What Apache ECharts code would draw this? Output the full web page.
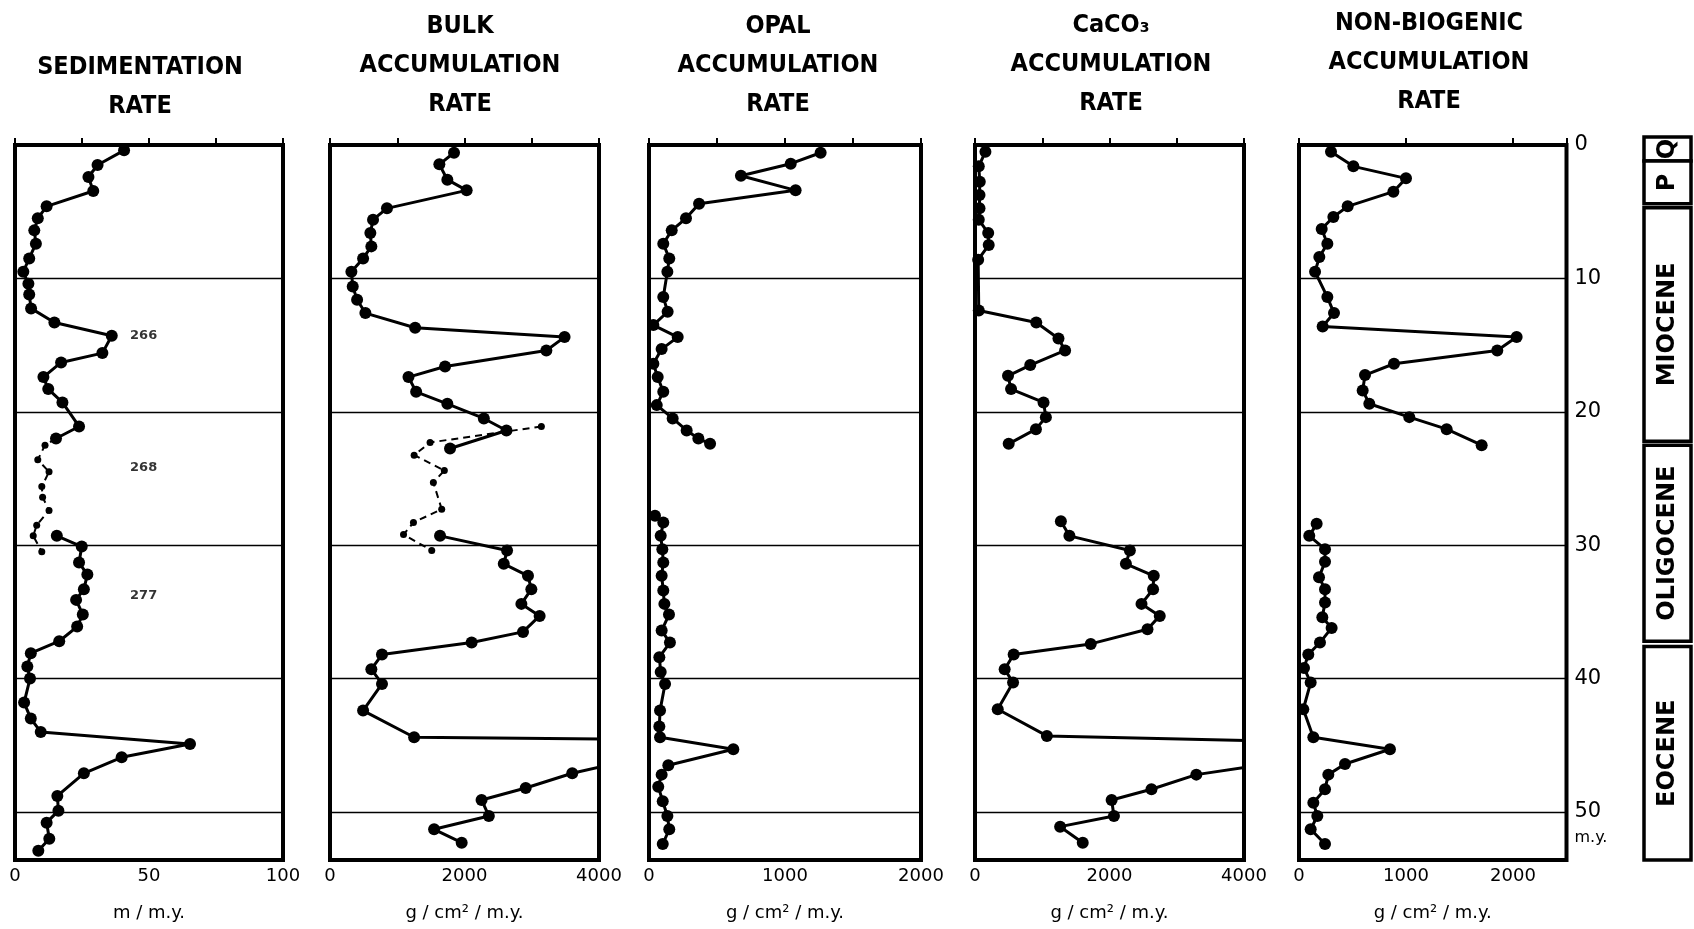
<!DOCTYPE html>
<html><head><meta charset="utf-8">
<script src="https://cdn.jsdelivr.net/npm/echarts@6/dist/echarts.min.js"></script>
<style>html,body{margin:0;padding:0;background:#fff}#c{width:1694px;height:929px}</style>
</head><body><div id="c"></div>
<script>
// ---------- DATA : [value, age (m.y.)] ----------
// Sedimentation rate (m/m.y.)
const sed266 = [[40.7,0.4],[30.8,1.5],[27.4,2.4],[29.2,3.45],[11.8,4.6],[8.5,5.5],[7.2,6.4],[7.8,7.4],[5.3,8.5],[3.1,9.5],[5.0,10.4],[5.3,11.2],[6.0,12.25],[14.7,13.3],[36.1,14.3],[32.6,15.6],[17.2,16.3],[10.6,17.4],[12.4,18.3],[17.7,19.3],[23.9,21.1],[15.3,22.0]];
const sed268 = [[15.3,22.0],[11.2,22.5],[8.5,23.6],[12.7,24.5],[10.0,25.6],[10.3,26.4],[12.7,27.4],[8.1,28.5],[6.8,29.3],[10.0,30.5]];
const sed277 = [[15.6,29.3],[24.9,30.1],[23.9,31.3],[27.0,32.2],[25.7,33.3],[22.8,34.1],[25.3,35.2],[23.2,36.1],[16.5,37.2],[5.9,38.1],[4.6,39.1],[5.6,40.0],[3.4,41.8],[5.9,43.0],[9.6,44.0],[65.3,44.9],[39.8,45.9],[25.7,47.1],[15.8,48.8],[16.2,49.9],[11.8,50.8],[12.8,52.0],[8.7,52.9]];
// Bulk accumulation rate (g/cm2/m.y.)
const bulk266 = [[1844,0.58],[1626,1.45],[1745,2.6],[2032,3.4],[847,4.75],[640,5.6],[600,6.6],[615,7.6],[492,8.5],[318,9.5],[338,10.6],[403,11.6],[526,12.6],[1266,13.7],[3488,14.4],[3217,15.4],[1711,16.6],[1167,17.4],[1281,18.5],[1745,19.4],[2288,20.5],[2624,21.4],[1785,22.75]];
const bulk268 = [[3143,21.1],[1488,22.3],[1251,23.25],[1700,24.4],[1537,25.3],[1661,27.3],[1241,28.3],[1093,29.2],[1513,30.4]];
const bulk277 = [[1636,29.3],[2633,30.4],[2584,31.4],[2944,32.3],[2994,33.3],[2846,34.4],[3117,35.3],[2870,36.5],[2106,37.3],[773,38.2],[615,39.3],[773,40.4],[492,42.4],[1251,44.4],[5800,44.6],[3602,47.1],[2910,48.2],[2254,49.1],[2362,50.3],[1548,51.3],[1958,52.3]];
// Opal accumulation rate
const opal266 = [[1262,0.58],[1042,1.4],[676,2.3],[1078,3.4],[368,4.4],[272,5.5],[167,6.4],[105,7.4],[149,8.5],[135,9.5],[105,11.4],[137,12.5],[32,13.5],[211,14.4],[93,15.3],[32,16.4],[64,17.4],[105,18.5],[57,19.5],[174,20.5],[277,21.4],[363,22.0],[449,22.4]];
const opal277 = [[44,27.8],[105,28.3],[86,29.3],[98,30.3],[105,31.3],[93,32.3],[105,33.4],[113,34.4],[147,35.2],[93,36.4],[154,37.3],[76,38.4],[86,39.5],[118,40.4],[81,42.4],[76,43.6],[81,44.4],[620,45.3],[142,46.5],[93,47.2],[68,48.1],[101,49.2],[135,50.3],[149,51.3],[101,52.4]];
// CaCO3 accumulation rate
const carb266 = [[155,0.5],[56,1.6],[71,2.75],[67,3.75],[67,4.75],[56,5.6],[196,6.6],[204,7.5],[47,8.6],[56,12.4],[911,13.3],[1241,14.5],[1340,15.4],[822,16.5],[491,17.3],[536,18.3],[1019,19.3],[1054,20.4],[906,21.3],[501,22.4]];
const carb277 = [[1277,28.2],[1404,29.3],[2303,30.4],[2244,31.4],[2658,32.3],[2648,33.3],[2476,34.4],[2747,35.3],[2565,36.3],[1721,37.4],[575,38.2],[441,39.3],[566,40.3],[338,42.3],[1069,44.3],[6400,44.9],[3291,47.2],[2624,48.3],[2032,49.1],[2066,50.3],[1266,51.1],[1602,52.3]];
// Non-biogenic accumulation rate
const nb266 = [[299,0.5],[508,1.6],[1000,2.5],[882,3.5],[455,4.6],[321,5.4],[212,6.3],[265,7.4],[190,8.4],[150,9.5],[265,11.4],[327,12.6],[221,13.6],[2034,14.4],[1853,15.4],[888,16.4],[617,17.25],[595,18.4],[657,19.4],[1031,20.4],[1380,21.3],[1707,22.5]];
const nb277 = [[165,28.4],[96,29.3],[243,30.3],[243,31.25],[187,32.4],[243,33.3],[243,34.3],[218,35.4],[305,36.2],[196,37.3],[87,38.2],[47,39.2],[109,40.3],[40,42.3],[134,44.4],[850,45.3],[430,46.4],[274,47.2],[243,48.3],[134,49.3],[171,50.3],[109,51.3],[243,52.4]];
// site labels (panel 1)
const siteNames = ['266','268','277'];
const siteAt = [[48,14.3],[48,24.2],[48,33.8]];
// panel titles / units / x scales
const titles = ['SEDIMENTATION\nRATE','BULK\nACCUMULATION\nRATE','OPAL\nACCUMULATION\nRATE','CaCO\u2083\nACCUMULATION\nRATE','NON-BIOGENIC\nACCUMULATION\nRATE'];
const units = ['m / m.y.','g / cm\u00b2 / m.y.','g / cm\u00b2 / m.y.','g / cm\u00b2 / m.y.','g / cm\u00b2 / m.y.'];
const xMax = [100,4000,2000,4000,2500];
const xTickStep = [25,1000,500,1000,1000];
const xLabelStep = [50,2000,1000,2000,1000];
const ageMax = 53.6;
const ageStep = 10;
const ageUnit = 'm.y.';
// epochs
const epochNames = ['Q','P','MIOCENE','OLIGOCENE','EOCENE'];
const epochTop = [-0.6,1.2,4.7,22.5,37.6];
const epochBase = [1.2,4.4,22.2,37.2,53.6];

// ---------- LAYOUT ----------
const gridLeft = [15,330,649,975,1299];
const gridWidth = [268,269,272,269,267.5];
const titleX = [140,460,778,1111,1429];
const titleTop = [48,7,7,6,4];
const FONT = "'DejaVu Sans Condensed','Liberation Sans Narrow','DejaVu Sans',sans-serif";

const grids = [], xAxes = [], yAxes = [], series = [], titlesOpt = [];
for (let i = 0; i < 5; i++) {
  grids.push({left: gridLeft[i], width: gridWidth[i], top: 145, height: 715, show: true,
    borderColor: '#000', borderWidth: 4, backgroundColor: 'transparent'});
  const lab = xLabelStep[i], mx = xMax[i];
  xAxes.push({type: 'value', gridIndex: i, min: 0, max: mx, interval: xTickStep[i],
    axisLine: {show: false},
    axisTick: {show: true, inside: true, length: 7, lineStyle: {color: '#000', width: 2}},
    splitLine: {show: false},
    axisLabel: {color: '#000', fontSize: 18, fontFamily: 'DejaVu Sans', margin: 7,
      formatter: v => (v % lab === 0 && v <= mx) ? String(v) : ''},
    name: units[i], nameLocation: 'middle', nameGap: 44,
    nameTextStyle: {color: '#000', fontSize: 18, fontFamily: 'DejaVu Sans'}});
  yAxes.push({type: 'value', gridIndex: i, inverse: true, min: 0, max: ageMax, interval: ageStep,
    position: i === 4 ? 'right' : 'left',
    axisLine: {show: false}, axisTick: {show: false},
    splitLine: {show: true, lineStyle: {color: '#000', width: 1.3}},
    axisLabel: {show: i === 4, color: '#000', fontSize: 21, fontFamily: 'DejaVu Sans', margin: 8,
      formatter: v => v === 50 ? '{sp|}\n{a|50}\n{u|' + ageUnit + '}' : (v % ageStep === 0 ? '{a|' + v + '}' : ''),
      rich: {sp: {lineHeight: 26, fontSize: 16}, a: {lineHeight: 26, fontSize: 21, fontFamily: 'DejaVu Sans', color: '#000'},
             u: {lineHeight: 26, fontSize: 16, fontFamily: 'DejaVu Sans', color: '#000'}}}});
  titlesOpt.push({text: titles[i], left: titleX[i], top: titleTop[i], textAlign: 'center', padding: 0,
    textStyle: {color: '#000', fontSize: 25, fontWeight: 'bold', fontFamily: FONT, lineHeight: 39}});
}
function solid(idx, data) {
  return {type: 'line', xAxisIndex: idx, yAxisIndex: idx, data: data, symbol: 'circle', symbolSize: 12,
    showSymbol: true, clip: true, animation: false, silent: true,
    itemStyle: {color: '#000'}, lineStyle: {color: '#000', width: 3}};
}
function dashed(idx, data) {
  return {type: 'line', xAxisIndex: idx, yAxisIndex: idx, data: data, symbol: 'circle', symbolSize: 7,
    clip: true, animation: false, silent: true,
    itemStyle: {color: '#000'}, lineStyle: {color: '#000', width: 2, type: [7, 5]}};
}
series.push(solid(0, sed266), dashed(0, sed268), solid(0, sed277));
series.push(solid(1, bulk266), dashed(1, bulk268), solid(1, bulk277));
series.push(solid(2, opal266), solid(2, opal277));
series.push(solid(3, carb266), solid(3, carb277));
series.push(solid(4, nb266), solid(4, nb277));
series.push({type: 'scatter', xAxisIndex: 0, yAxisIndex: 0, symbolSize: 0, animation: false, silent: true,
  data: siteAt.map((p, k) => ({value: p, name: siteNames[k]})),
  label: {show: true, position: 'inside', formatter: p => p.name, color: '#000', fontSize: 13, fontWeight: 'bold', fontFamily: 'DejaVu Sans'}});

// epoch column
grids.push({left: 1644, width: 47, top: 137, height: 723, show: false});
xAxes.push({type: 'value', gridIndex: 5, min: 0, max: 1, show: false});
yAxes.push({type: 'value', gridIndex: 5, min: -0.6, max: ageMax, inverse: true, show: false});
series.push({type: 'custom', xAxisIndex: 5, yAxisIndex: 5, animation: false, silent: true,
  data: epochNames.map((n, k) => [0, epochTop[k], epochBase[k]]),
  encode: {x: 0, y: [1, 2]},
  renderItem: (params, api) => {
    const p0 = api.coord([0, api.value(1)]);
    const p1 = api.coord([1, api.value(2)]);
    const name = epochNames[params.dataIndex];
    return {type: 'group', children: [
      {type: 'rect', shape: {x: p0[0], y: p0[1], width: p1[0] - p0[0], height: p1[1] - p0[1]},
       style: {fill: '#fff', stroke: '#000', lineWidth: 3.5}},
      {type: 'text', x: (p0[0] + p1[0]) / 2, y: (p0[1] + p1[1]) / 2, rotation: Math.PI / 2,
       style: {text: name, align: 'center', verticalAlign: 'middle', fill: '#000',
         font: 'bold 24px "DejaVu Sans"'}}
    ]};
  }});

const chart = echarts.init(document.getElementById('c'), null, {renderer: 'canvas'});
chart.setOption({backgroundColor: '#fff', animation: false, title: titlesOpt,
  grid: grids, xAxis: xAxes, yAxis: yAxes, series: series});
</script></body></html>
